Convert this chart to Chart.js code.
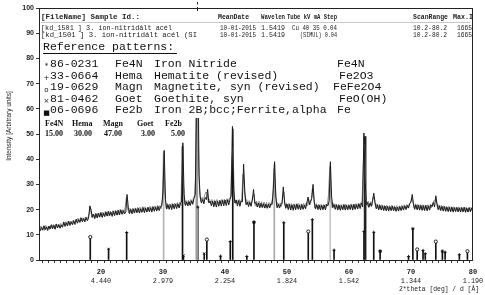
<!DOCTYPE html>
<html>
<head>
<meta charset="utf-8">
<script src="https://cdn.jsdelivr.net/npm/chart.js@4.4.1/dist/chart.umd.min.js"></script>
<style>
  html, body { margin: 0; padding: 0; background: #fff; }
  canvas { display: block; }
</style>
</head>
<body>
<canvas id="xrd" width="485" height="295"></canvas>
<script>
// scan: 2theta from 10.0 deg, step 0.2 (measured) / 10.1 (simulated trace)
const scanStep = 0.2;
const measuredStart = 10.0;
const measured = [
  13.4, 11.6, 12.9, 11.8, 13.6, 12.0, 13.1, 11.7, 13.5, 12.3,
  14.0, 12.4, 13.8, 12.2, 14.3, 12.8, 14.1, 12.6, 13.9, 13.0,
  15.1, 13.3, 14.8, 13.5, 15.4, 13.7, 15.2, 14.0, 15.6, 14.1,
  16.2, 14.6, 16.0, 14.9, 16.7, 15.2, 16.4, 15.1, 16.9, 15.6,
  16.6, 21.5, 19.8, 16.9, 18.2, 16.4, 18.4, 16.7, 18.6, 17.0,
  18.8, 16.9, 18.5, 17.2, 19.1, 17.4, 19.4, 17.6, 19.0, 17.3,
  19.3, 17.6, 19.5, 17.8, 19.7, 17.9, 19.9, 18.1, 19.6, 18.3,
  19.1, 26.0, 21.0, 18.4, 20.1, 18.3, 20.3, 18.6, 20.4, 18.7,
  20.5, 18.6, 20.3, 18.9, 20.8, 18.8, 20.6, 19.0, 20.9, 19.1,
  20.7, 19.0, 21.1, 19.3, 20.9, 19.4, 21.3, 19.6, 21.2, 21.5,
  27.0, 43.5, 24.0, 20.2, 22.0, 20.1, 21.9, 20.0, 22.2, 20.3,
  22.1, 20.4, 22.3, 20.6, 22.6, 23.0, 46.5, 26.0, 21.6, 23.1,
  21.4, 23.2, 21.6, 23.5, 22.1, 24.5, 26.0, 60.0, 100, 34.0,
  25.0, 22.6, 24.0, 22.3, 24.8, 24.0, 28.0, 22.6, 23.4, 21.5,
  23.3, 21.1, 23.4, 21.0, 23.2, 21.3, 23.6, 21.4, 23.7, 21.5,
  23.8, 21.6, 23.9, 21.8, 24.0, 25.5, 53.0, 28.0, 22.6, 23.8,
  21.4, 23.6, 21.3, 23.5, 23.0, 38.0, 27.0, 21.9, 23.0, 21.2,
  22.9, 21.3, 23.6, 28.0, 22.4, 22.8, 21.0, 22.6, 20.7, 22.5,
  20.8, 22.3, 20.6, 22.2, 20.5, 22.1, 20.7, 22.4, 22.0, 28.0,
  39.0, 25.0, 20.7, 22.1, 20.6, 22.0, 22.4, 29.0, 23.0, 20.5,
  22.2, 20.0, 22.1, 19.8, 21.9, 19.7, 22.0, 19.9, 22.3, 20.1,
  21.8, 19.9, 22.0, 20.1, 21.7, 20.3, 22.6, 25.0, 22.0, 23.4,
  24.5, 30.0, 23.0, 20.2, 21.9, 20.0, 21.8, 19.8, 21.7, 19.9,
  21.8, 19.9, 22.0, 21.5, 23.5, 39.0, 25.0, 20.8, 22.0, 20.1,
  21.9, 19.8, 21.8, 19.7, 21.6, 19.9, 22.0, 19.8, 21.7, 19.9,
  21.8, 20.0, 21.9, 19.8, 22.1, 20.1, 22.0, 20.2, 22.3, 20.4,
  22.6, 21.0, 50.4, 32.0, 22.0, 22.8, 20.9, 22.6, 21.3, 23.5,
  26.5, 22.8, 20.3, 21.9, 19.9, 21.7, 19.8, 21.5, 19.6, 21.4,
  19.5, 21.3, 19.4, 21.2, 19.6, 21.4, 19.5, 21.1, 19.3, 21.0,
  19.4, 21.2, 19.6, 21.3, 19.8, 21.5, 20.0, 21.7, 20.6, 22.5,
  23.0, 26.0, 22.0, 20.1, 21.9, 19.9, 21.8, 19.8, 21.7, 19.7,
  21.6, 19.6, 21.7, 19.5, 21.5, 19.8, 21.9, 21.2, 22.8, 21.0,
  25.5, 22.3, 19.9, 21.5, 19.6, 21.3, 19.4, 21.2, 19.3, 21.0,
  19.2, 20.9, 19.1, 21.0, 19.0, 20.8, 19.2, 20.9, 19.1, 20.7,
  19.0, 20.8, 19.1, 20.9, 18.9, 20.6, 19.0, 20.8, 19.2, 20.6,
  19.6
];
const simulatedStart = 10.1;
const simulated = [
  11.9, 13.5, 12.0, 13.2, 11.8, 13.7, 12.2, 13.4, 12.1, 13.8,
  12.6, 14.1, 12.5, 14.3, 12.9, 14.0, 12.7, 14.5, 13.1, 14.6,
  13.6, 15.2, 13.8, 15.5, 14.0, 15.4, 14.3, 15.8, 14.2, 15.9,
  15.0, 16.6, 15.2, 16.9, 15.4, 16.8, 15.6, 17.1, 15.9, 17.0,
  18.5, 21.0, 17.0, 18.3, 16.8, 18.5, 16.9, 18.6, 17.1, 18.9,
  17.2, 19.0, 17.4, 19.3, 17.6, 19.1, 17.5, 19.4, 17.8, 19.6,
  17.9, 19.7, 18.1, 19.9, 18.0, 20.1, 18.4, 20.0, 18.5, 20.8,
  25.0, 20.2, 18.6, 20.5, 18.7, 20.6, 18.9, 20.7, 19.0, 20.9,
  19.1, 21.0, 19.0, 21.2, 19.3, 21.1, 19.2, 21.0, 19.5, 21.3,
  19.6, 21.4, 19.8, 21.5, 19.9, 21.7, 20.0, 21.6, 20.4, 24.0,
  42.0, 25.5, 20.6, 22.4, 20.5, 22.3, 20.7, 22.5, 20.8, 22.6,
  21.0, 22.8, 21.1, 23.0, 21.5, 44.0, 30.0, 22.2, 23.6, 21.8,
  23.7, 21.9, 24.0, 22.4, 24.5, 25.5, 35.0, 100, 48.0, 27.0,
  23.2, 24.9, 23.4, 25.6, 27.0, 26.5, 23.0, 24.1, 22.3, 24.0,
  22.0, 23.9, 22.1, 24.0, 22.2, 23.8, 22.3, 24.1, 22.4, 24.2,
  22.5, 24.3, 22.8, 24.6, 25.0, 40.0, 45.0, 25.0, 22.4, 23.9,
  22.2, 24.0, 22.1, 24.5, 34.0, 30.0, 22.6, 24.0, 22.0, 23.6,
  21.9, 23.4, 25.0, 26.0, 21.5, 23.4, 21.2, 23.3, 21.0, 23.1,
  20.9, 23.0, 20.8, 22.9, 20.7, 22.8, 20.9, 22.6, 25.0, 36.0,
  30.0, 21.5, 22.8, 21.0, 22.7, 21.2, 24.5, 27.0, 21.4, 22.6,
  20.7, 22.5, 20.5, 22.4, 20.6, 22.3, 20.4, 22.2, 20.6, 22.4,
  20.5, 22.3, 20.4, 22.5, 20.8, 22.7, 21.6, 24.0, 21.8, 23.4,
  28.5, 25.0, 20.6, 22.4, 20.5, 22.2, 20.3, 22.1, 20.4, 22.0,
  20.5, 22.2, 21.4, 26.0, 37.0, 24.0, 20.6, 22.5, 20.4, 22.3,
  20.3, 22.2, 20.2, 22.0, 20.1, 22.1, 20.3, 22.2, 20.2, 22.0,
  20.4, 22.3, 20.5, 22.2, 20.3, 22.4, 20.6, 22.5, 20.9, 22.8,
  23.0, 38.0, 46.0, 25.5, 21.4, 23.4, 21.2, 23.1, 21.6, 25.0,
  24.0, 20.9, 22.3, 20.4, 22.1, 20.2, 21.9, 20.0, 21.8, 20.1,
  21.7, 19.9, 21.6, 19.8, 21.8, 19.9, 21.5, 19.7, 21.6, 19.8,
  21.5, 19.9, 21.7, 20.1, 21.9, 20.3, 22.0, 20.6, 22.2, 22.4,
  24.5, 23.5, 20.6, 22.3, 20.2, 22.1, 20.1, 22.0, 20.0, 21.9,
  19.9, 21.8, 20.0, 21.9, 20.1, 22.0, 20.6, 22.5, 23.5, 24.0,
  23.0, 20.3, 21.9, 19.9, 21.7, 19.8, 21.5, 19.7, 21.4, 19.6,
  21.3, 19.5, 21.2, 19.4, 21.1, 19.5, 21.0, 19.3, 21.1, 19.4,
  21.0, 19.3, 20.9, 19.4, 21.0, 19.2, 20.8, 19.3, 20.9, 19.5
];

// reference sticks: position (2theta), height, phase index
const stickPos    = [18.27, 21.22, 24.14, 30.1, 33.15, 33.3, 35.61, 36.65, 37.07, 39.28, 40.85, 41.25, 43.52, 44.67, 47.95, 49.48, 53.43, 54.09, 56.97, 57.59, 62.42, 63.99, 65.02, 69.6, 70.3, 71.0, 71.94, 72.3, 74.0, 75.06, 75.5, 77.8, 79.1];
const stickHeight = [9.1, 4.4, 10.9, 43, 45, 1.8, 21, 2.6, 8.1, 1.5, 7.3, 52, 1.4, 15, 38, 14.8, 11.3, 16, 38, 3.9, 11.3, 11, 3.5, 1.4, 12.4, 4.2, 3.8, 2.5, 7.3, 3.5, 3.1, 2.1, 3.5];
const stickPhase  = [2, 3, 1, 2, 1, 3, 1, 3, 2, 1, 1, 0, 1, 4, 0, 1, 2, 1, 2, 1, 1, 1, 4, 1, 0, 2, 1, 1, 2, 0, 1, 1, 2];
const strongPos    = [35.45, 62.6];
const strongHeight = [100, 49];

const phaseCodes   = ["86-0231", "33-0664", "19-0629", "81-0462", "06-0696"];
const phaseShort   = ["Fe4N", "Hema", "Magn", "Goet", "Fe2b"];
const phaseNames   = ["Iron Nitride", "Hematite (revised)", "Magnetite, syn (revised)", "Goethite, syn", "Iron 2B;bcc;Ferrite,alpha"];
const phaseFormula = ["Fe4N", "Fe2O3", "FeFe2O4", "FeO(OH)", "Fe"];
const phaseScale   = ["15.00", "30.00", "47.00", "3.00", "5.00"];

const xTickDeg = [20, 30, 40, 50, 60, 70, 80];
const xTickD   = ["4.440", "2.979", "2.254", "1.824", "1.542", "1.344", "1.190"];
const yTicks   = [0, 10, 20, 30, 40, 50, 60, 70, 80, 90, 100];

const headerRow = ["[FileName] Sample Id.:", "MeanDate", "Wavelen", "Tube kV mA Step", "ScanRange", "Max.I"];
const scanRow1  = ["[kd_1501 ] 3. ion-nitridált acél", "10-01-2015", "1.5419", "Cu 40 35 0.04", "10.2-80.2", "1665"];
const scanRow2  = ["[kd_1501 ] 3. ion-nitridált acél (SI", "10-01-2015", "1.5419", "(SIMUL) 0.04", "10.2-80.2", "1665"];

// ---- styles ----
const phaseStyles = ["star", "cross", "circle", "crossRot", "rect"];
const phaseGlyphs = ["*", "+", "o", "×", "■"];
const greySticks = { 30.1: "#b4b4b4", 47.95: "#a8a8a8", 56.97: "#c6c6c6" };

const toPoints = (start, values) =>
  values.map((v, i) => ({ x: +(start + i * scanStep).toFixed(2), y: v }));

const stickPoints = stickPos.map((x, i) => ({ x, y: stickHeight[i] }));
const strongPoints = strongPos.map((x, i) => ({ x, y: strongHeight[i] }));

const overlay = {
  id: "overlay",
  afterDatasetsDraw(chart) {
    const { ctx, chartArea: a, scales } = chart;
    ctx.save();
    // white panel over the top of the plot (header + reference list)
    ctx.fillStyle = "#fff";
    ctx.fillRect(a.left + 1, a.top + 1, a.right - a.left - 2, 30);
    ctx.fillRect(a.left + 1, a.top + 1, 387 - a.left, 118 - a.top - 1);

    // cursor mark at the strongest line
    const cx = Math.round(scales.x.getPixelForValue(strongPos[0])) + 0.5;
    ctx.strokeStyle = "#222";
    ctx.lineWidth = 1;
    ctx.beginPath();
    ctx.moveTo(cx, 2); ctx.lineTo(cx, 4.5);
    ctx.moveTo(cx, 7); ctx.lineTo(cx, 11);
    ctx.stroke();

    // scan header
    ctx.fillStyle = "#222";
    ctx.textBaseline = "middle";
    ctx.textAlign = "left";
    const colX = [41, 218, 261, 287, 413, 453];
    const colW = [105, 31, 24, 50, 35, 20];
    ctx.font = 'bold 7.5px "Liberation Mono"';
    headerRow.forEach((t, i) => ctx.fillText(t, colX[i], 17, colW[i]));
    ctx.font = '7.5px "Liberation Mono"';
    const rowX = [41, 220, 261, 292, 413, 457];
    const rowW = [131, 36, 24, 45, 34, 15];
    scanRow1.forEach((t, i) => ctx.fillText(t, rowX[i], 28.5, rowW[i]));
    const row2X = [41, 220, 261, 300, 413, 457];
    const row2W = [156, 36, 24, 37, 34, 15];
    scanRow2.forEach((t, i) => ctx.fillText(t, row2X[i], 35, row2W[i]));
    ctx.strokeStyle = "#c8c8c8";
    ctx.beginPath();
    ctx.moveTo(41, 22.5); ctx.lineTo(470, 22.5);
    ctx.stroke();

    // reference patterns list
    ctx.fillStyle = "#111";
    ctx.font = '11.5px "Liberation Mono"';
    ctx.fillText("Reference patterns:", 43, 46.5, 134);
    ctx.strokeStyle = "#111";
    ctx.beginPath();
    ctx.moveTo(43, 53.5); ctx.lineTo(177, 53.5);
    ctx.stroke();
    const rowY = [63.5, 75.5, 87, 98.5, 110];
    phaseCodes.forEach((code, i) => {
      const y = rowY[i];
      ctx.font = '11.5px "Liberation Mono"';
      ctx.fillText(code, 50, y);
      ctx.fillText(phaseShort[i], 115, y);
      ctx.fillText(phaseNames[i], 154, y);
      ctx.fillText(phaseFormula[i], [337, 339, 333, 339, 337][i], y);
      ctx.font = '7px "DejaVu Sans"';
      ctx.textAlign = "center";
      ctx.fillText(phaseGlyphs[i], 46.5, y + 3);
      ctx.textAlign = "left";
    });

    // scale factors
    ctx.font = 'bold 8px "Liberation Serif"';
    const headL = [45, 72, 103, 137, 165];
    const valR = [63, 92, 122, 155, 185];
    phaseShort.forEach((s, i) => {
      ctx.textAlign = "left";
      ctx.fillText(s, headL[i], 124);
      ctx.textAlign = "right";
      ctx.fillText(phaseScale[i], valR[i], 134);
    });

    // frame
    ctx.strokeStyle = "#222";
    ctx.lineWidth = 1;
    ctx.strokeRect(a.left + 0.5, a.top + 0.5, a.right - a.left - 1, a.bottom - a.top);
    ctx.restore();
  },
  afterDraw(chart) {
    const { ctx, scales } = chart;
    ctx.save();
    ctx.fillStyle = "#222";
    ctx.textAlign = "center";
    ctx.textBaseline = "middle";
    xTickDeg.forEach((deg, i) => {
      const px = scales.x.getPixelForValue(deg);
      ctx.font = 'bold 7px "Liberation Mono"';
      ctx.fillText(String(deg), px, 272.5);
      ctx.font = '6.8px "Liberation Mono"';
      ctx.fillText(xTickD[i], px, 281);
    });
    ctx.textAlign = "right";
    ctx.font = '6.8px "Liberation Mono"';
    ctx.fillText("2*theta [deg] / d [Å]", 479, 289.5, 80);

    ctx.translate(9, 126);
    ctx.rotate(-Math.PI / 2);
    ctx.textAlign = "center";
    ctx.font = '6.5px "Liberation Sans"';
    ctx.fillText("Intensity [Arbitrary units]", 0, 0, 95);
    ctx.restore();
  }
};

new Chart(document.getElementById("xrd"), {
  type: "line",
  data: {
    datasets: [
      {
        type: "bar",
        data: stickPoints,
        barThickness: 1,
        grouped: false,
        borderWidth: 0,
        backgroundColor: (c) => greySticks[stickPos[c.dataIndex]] || "#111",
        order: 6
      },
      {
        type: "bar",
        data: strongPoints,
        barThickness: 2,
        grouped: false,
        borderWidth: 0,
        backgroundColor: ["#9c9c9c", "#222"],
        order: 5
      },
      {
        data: toPoints(simulatedStart, simulated),
        borderColor: "#8a8a8a",
        borderWidth: 1,
        pointRadius: 0,
        tension: 0,
        order: 3
      },
      {
        data: toPoints(measuredStart, measured),
        borderColor: "#1b1b1b",
        borderWidth: 1,
        pointRadius: 0,
        tension: 0,
        order: 2
      },
      {
        type: "scatter",
        data: stickPoints,
        pointStyle: (c) => phaseStyles[stickPhase[c.dataIndex]],
        pointRadius: (c) => (stickHeight[c.dataIndex] > 30 ? 0 : 1.6),
        pointBackgroundColor: (c) => (stickPhase[c.dataIndex] === 2 ? "#fff" : "#111"),
        pointBorderColor: "#111",
        pointBorderWidth: 0.9,
        showLine: false,
        order: 1
      }
    ]
  },
  options: {
    responsive: false,
    animation: false,
    devicePixelRatio: 1,
    events: [],
    layout: { padding: { top: 8, right: 12, left: 0, bottom: 0 } },
    plugins: { legend: { display: false }, tooltip: { enabled: false } },
    scales: {
      x: {
        type: "linear",
        min: 10,
        max: 80,
        offset: false,
        afterBuildTicks: (s) => {
          const t = [];
          for (let v = 10; v <= 80; v += 1) t.push({ value: v });
          s.ticks = t;
        },
        afterFit: (s) => { s.height = 35; },
        ticks: { display: false },
        border: { display: false },
        grid: { drawOnChartArea: false, drawTicks: true, tickLength: 3, tickColor: "#333", tickWidth: 1 }
      },
      y: {
        min: 0,
        max: 100,
        afterBuildTicks: (s) => { s.ticks = yTicks.map((v) => ({ value: v })); },
        afterFit: (s) => { s.width = 39; },
        ticks: { color: "#222", padding: 2, font: { family: "Liberation Sans", size: 7, weight: "bold" } },
        border: { display: false },
        grid: { drawOnChartArea: false, drawTicks: true, tickLength: 3, tickColor: "#333" }
      }
    }
  },
  plugins: [overlay]
});
</script>
</body>
</html>
